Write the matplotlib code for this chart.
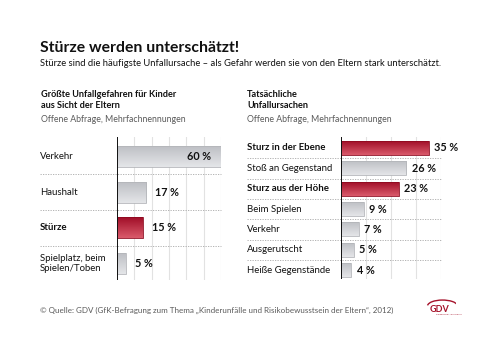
import numpy as np
import matplotlib
matplotlib.use("Agg")
from matplotlib import pyplot as plt
from matplotlib.patches import Arc

plt.rcParams['font.family'] = ['Lato', 'DejaVu Sans']

# left panel: Eltern-Sicht
left_labels = ["Verkehr", "Haushalt", "Stürze", "Spielplatz, beim\nSpielen/Toben"]
left_values = [60, 17, 15, 5]
left_red = [False, False, True, False]

# right panel: tatsaechliche Ursachen
right_labels = ["Sturz in der Ebene", "Stoß an Gegenstand", "Sturz aus der Höhe",
                "Beim Spielen", "Verkehr", "Ausgerutscht", "Heiße Gegenstände"]
right_values = [35, 26, 23, 9, 7, 5, 4]
right_red = [True, False, True, False, False, False, False]

W, H = 500, 355
fig = plt.figure(figsize=(W / 100, H / 100), dpi=100)
fig.patch.set_facecolor("white")

dark = "#111111"
grey_txt = "#5a5a5a"


def ftext(x, y, s, **kw):
    # position in pixels, y from the top
    fig.text(x / W, 1 - y / H, s, **kw)


def px_axes(x0, y0, x1, y1):
    return fig.add_axes([x0 / W, 1 - y1 / H, (x1 - x0) / W, (y1 - y0) / H])


grad = np.linspace(0, 1, 32).reshape(-1, 1)
cm_grey = matplotlib.colors.LinearSegmentedColormap.from_list("g", ["#bcbec3", "#e4e5e8"])
cm_red = matplotlib.colors.LinearSegmentedColormap.from_list("r", ["#9e0b25", "#d9596a"])


def panel(ax, labels, values, reds, xmax, bar_h, ylim, label_x_frac, gap, inside_first):
    n = len(values)
    y = np.arange(n)
    bars = ax.barh(y, values, height=bar_h, color="none", zorder=3)
    for b, v, r, yy in zip(bars, values, reds, y):
        b.set_edgecolor("#8e0a20" if r else "#b4b6ba")
        b.set_linewidth(0.6)
        im = ax.imshow(grad, cmap=cm_red if r else cm_grey, aspect="auto",
                       origin="lower", extent=(0, v, yy - bar_h / 2, yy + bar_h / 2),
                       zorder=2)
        im.set_clip_path(b)
    ax.set_xlim(0, xmax)
    ax.set_ylim(*ylim)
    for g in range(10, xmax + 1, 10):
        ax.axvline(g, color="#e2e2e2", lw=0.8, zorder=1)
    for k in range(n - 1):
        ax.axhline(k + 0.5, xmin=label_x_frac, xmax=1, color="#a8a8a8", lw=0.6,
                   ls=(0, (1.5, 1.5)), clip_on=False, zorder=1)
    ax.axvline(0, color="#111111", lw=1.4, zorder=4)
    for i, (lab, v, r) in enumerate(zip(labels, values, reds)):
        ax.text(label_x_frac, i, lab, transform=ax.get_yaxis_transform(),
                ha="left", va="center", fontsize=6.9, color=dark,
                fontweight="bold" if r else "normal", linespacing=1.15)
        if inside_first and i == 0:
            ax.annotate(f"{v} %", (v, i), xytext=(-7, 0), textcoords="offset points",
                        ha="right", va="center", fontsize=7.8, fontweight="bold",
                        color=dark)
        else:
            ax.annotate(f"{v} %", (v, i), xytext=(gap, 0), textcoords="offset points",
                        ha="left", va="center", fontsize=7.8, fontweight="bold",
                        color=dark)
    for s in ax.spines.values():
        s.set_visible(False)
    ax.set_xticks([])
    ax.set_yticks([])
    ax.set_facecolor("none")


# title
ftext(40, 52, "Stürze werden unterschätzt!", fontsize=11.3, fontweight="bold", color=dark)
ftext(40, 66.5, "Stürze sind die häufigste Unfallursache – als Gefahr werden sie von den Eltern "
      "stark unterschätzt.", fontsize=6.75, color=dark)

# panel headers
ftext(41, 97, "Größte Unfallgefahren für Kinder", fontsize=6.6, fontweight="bold", color=dark)
ftext(41, 108, "aus Sicht der Eltern", fontsize=6.6, fontweight="bold", color=dark)
ftext(41, 122, "Offene Abfrage, Mehrfachnennungen", fontsize=6.3, color=grey_txt)
ftext(247, 97, "Tatsächliche", fontsize=6.6, fontweight="bold", color=dark)
ftext(247, 108, "Unfallursachen", fontsize=6.6, fontweight="bold", color=dark)
ftext(247, 122, "Offene Abfrage, Mehrfachnennungen", fontsize=6.3, color=grey_txt)

axl = px_axes(117, 137, 221, 280)
panel(axl, left_labels, left_values, left_red, 60, 0.59, (3.46, -0.55),
      (40 - 117) / 104, 6.5, True)

axr = px_axes(341, 137, 441, 279)
panel(axr, right_labels, right_values, right_red, 40, 0.69, (6.44, -0.54),
      (247 - 341) / 100, 4.3, False)

# footer
ftext(40, 313, "© Quelle: GDV (GfK-Befragung zum Thema „Kinderunfälle und Risikobewusstsein "
      "der Eltern“, 2012)", fontsize=5.75, color=grey_txt)

# GDV logo
ftext(440, 312, "GDV", fontsize=6.5, fontweight="bold", color="#a5122a", ha="center")
ftext(462, 314.5, "DIE DEUTSCHEN VERSICHERER", fontsize=1.3, color="#a5122a", ha="right")
logo = fig.add_axes([426 / W, 1 - 306 / H, 30 / W, 7 / H])
logo.add_patch(Arc((0.55, 0.0), 1.0, 1.7, theta1=15, theta2=170, color="#a5122a", lw=1.0))
logo.set_xlim(0, 1)
logo.set_ylim(0, 1)
logo.axis("off")

fig.savefig("out.png", dpi=100, facecolor="white")
